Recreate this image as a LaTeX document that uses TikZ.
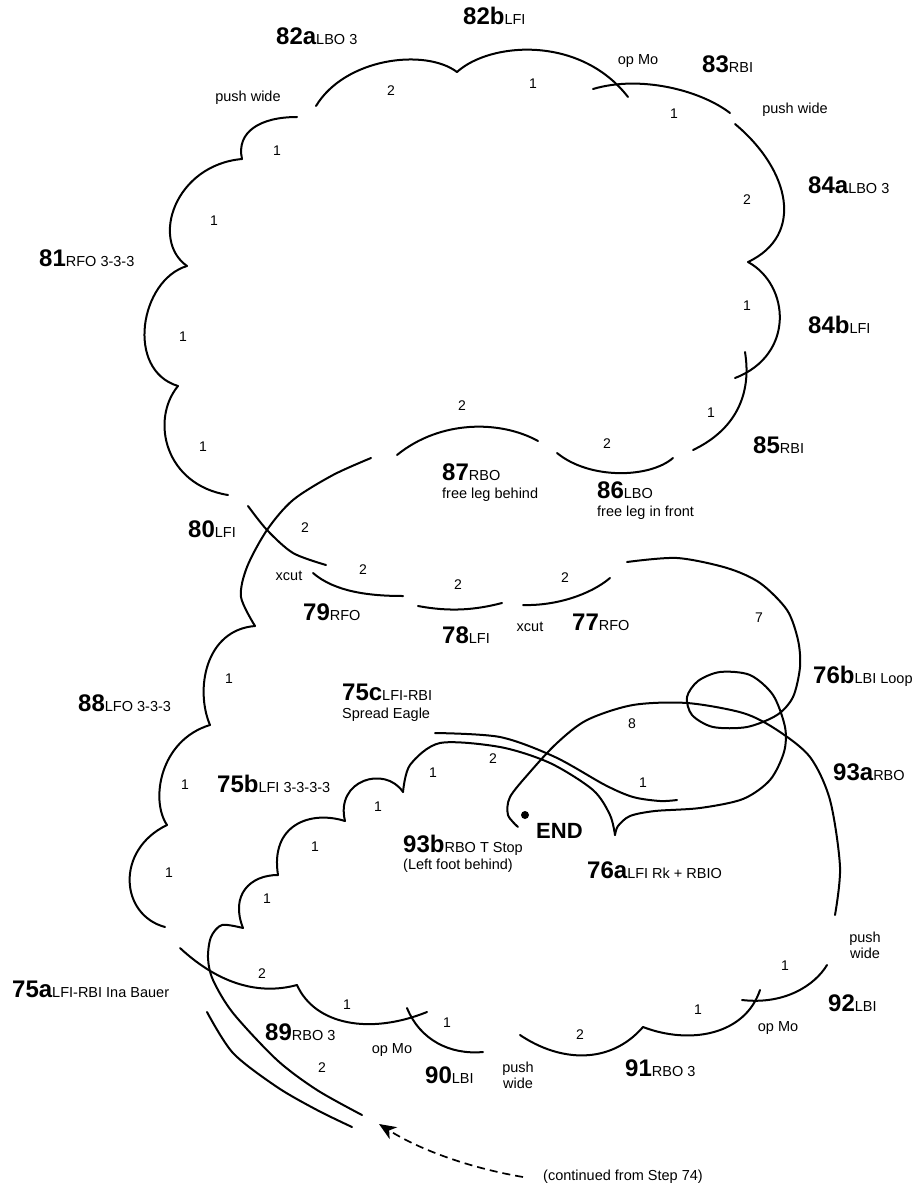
\documentclass[tikz,border=0pt]{standalone}
\usepackage{fontspec}
\setmainfont{Liberation Sans}
\usetikzlibrary{arrows.meta}
\newcommand{\edgetxt}[1]{{\fontsize{14.5}{14.5}\selectfont\mdseries #1}}

\begin{document}
\begin{tikzpicture}[
  x=1pt, y=-1pt,
  trace/.style={line width=2pt, line cap=round, line join=round},
  stp/.style={anchor=base west, inner sep=0pt, font=\fontsize{24}{24}\selectfont\bfseries},
  sub/.style={anchor=base west, inner sep=0pt, font=\fontsize{14.5}{14.5}\selectfont},
  cnt/.style={inner sep=0pt, font=\fontsize{14}{14}\selectfont},
  note/.style={inner sep=0pt, align=center, font=\fontsize{14.5}{16}\selectfont},
  arr/.style={line width=1.7pt, dash pattern=on 8pt off 5pt,
              -{Stealth[length=17pt, width=14pt, inset=5pt]}}
]
\useasboundingbox (0,0) rectangle (920,1190);

% top cloud, steps 81 to 87
\draw[trace] (297,117) .. controls (260,117) and (236,132) .. (242,159);
\draw[trace] (242,159) .. controls (175,165) and (150,240) .. (187,266);
\draw[trace] (187,266) .. controls (140,280) and (125,370) .. (178,386);
\draw[trace] (178,386) .. controls (150,420) and (165,485) .. (228,495);
\draw[trace] (316,106) .. controls (345,58) and (425,48) .. (457,72);
\draw[trace] (457,72) .. controls (490,42) and (580,35) .. (628,97);
\draw[trace] (593,89) .. controls (640,75) and (700,90) .. (730,113);
\draw[trace] (735,124) .. controls (790,170) and (805,235) .. (748,262);
\draw[trace] (748,262) .. controls (790,285) and (795,355) .. (735,378);
\draw[trace] (745,352) .. controls (752,395) and (735,430) .. (693,450);
\draw[trace] (673,458) .. controls (650,478) and (590,480) .. (557,453);
\draw[trace] (538,441) .. controls (500,420) and (440,420) .. (397,455);

% 80 and the xcut row
\draw[trace] plot[smooth] coordinates {(371,458) (333,475) (293,500) (267,530) (247,567) (241,597) (255,626)};
\draw[trace] plot[smooth] coordinates {(248,506) (267,530) (293,553) (326,565)};
\draw[trace] (313,573) .. controls (335,592) and (370,596) .. (403,596);
\draw[trace] (418,606) .. controls (450,612) and (475,610) .. (502,603);
\draw[trace] (523,605) .. controls (555,606) and (590,595) .. (610,578);

% 88 lobes
\draw[trace] (255,626) .. controls (205,630) and (195,690) .. (210,725);
\draw[trace] (210,725) .. controls (160,740) and (150,800) .. (167,825);
\draw[trace] (167,825) .. controls (115,850) and (120,915) .. (165,927);

% 76b loop into 76a
\draw[trace] plot[smooth] coordinates {(627,562) (677,558) (727,568) (760,583) (787,610) (798,640) (800,667)
  (793,697) (777,715) (747,727) (713,727) (692,715) (687,697) (698,681) (720,672) (750,675) (773,695)
  (785,727) (784,752) (770,780) (743,799) (700,808) (655,811) (630,816) (618,826) (615,835)};

% 75 series
\draw[trace] plot[smooth] coordinates {(403,792) (410,765) (440,743) (500,747) (550,763) (593,790) (610,815) (615,835)};
\draw[trace] plot[smooth] coordinates {(435,733) (500,737) (555,757) (605,785) (633,797) (660,801) (677,800)};
\draw[trace] (345,821) .. controls (335,780) and (385,765) .. (403,792);
\draw[trace] (278,875) .. controls (270,825) and (310,810) .. (345,821);
\draw[trace] (243,928) .. controls (230,895) and (250,875) .. (278,875);
\draw[trace] plot[smooth] coordinates {(362,1115) (317,1090) (277,1060) (233,1013) (213,980) (208,958) (211,937) (222,925) (243,928)};
\draw[trace] plot[smooth] coordinates {(207,1012) (233,1053) (277,1087) (317,1110) (352,1127)};

% 93a and the T stop
\draw[trace] plot[smooth] coordinates {(518,827) (508,815) (510,797) (530,772) (557,743) (587,720) (633,705)
  (687,703) (743,713) (777,730) (810,757) (830,800) (840,867) (835,915)};

% bottom row 89 to 92
\draw[trace] (180,948) .. controls (220,985) and (260,995) .. (297,985);
\draw[trace] (297,985) .. controls (315,1025) and (370,1035) .. (427,1012);
\draw[trace] (407,1008) .. controls (420,1040) and (450,1055) .. (483,1052);
\draw[trace] (520,1035) .. controls (560,1062) and (610,1065) .. (643,1027);
\draw[trace] (643,1027) .. controls (690,1045) and (745,1035) .. (760,990);
\draw[trace] (742,1000) .. controls (785,1005) and (815,985) .. (827,965);

% step labels
\node[stp] (s81)  at (39,266)  {81\edgetxt{RFO 3-3-3}};
\node[stp] (s82a) at (276,45)  {82a\edgetxt{LBO 3}};
\node[stp] (s82b) at (463,25)  {82b\edgetxt{LFI}};
\node[stp] (s83)  at (702,73)  {83\edgetxt{RBI}};
\node[stp] (s84a) at (808,194) {84a\edgetxt{LBO 3}};
\node[stp] (s84b) at (808,333) {84b\edgetxt{LFI}};
\node[stp] (s85)  at (753,453) {85\edgetxt{RBI}};
\node[stp] (s86)  at (597,498) {86\edgetxt{LBO}};
\node[sub] (s86n) at (597,516) {free leg in front};
\node[stp] (s87)  at (442,480) {87\edgetxt{RBO}};
\node[sub] (s87n) at (442,498) {free leg behind};
\node[stp] (s80)  at (188,537) {80\edgetxt{LFI}};
\node[stp] (s79)  at (303,620) {79\edgetxt{RFO}};
\node[stp] (s78)  at (442,643) {78\edgetxt{LFI}};
\node[stp] (s77)  at (572,630) {77\edgetxt{RFO}};
\node[stp] (s88)  at (78,711)  {88\edgetxt{LFO 3-3-3}};
\node[stp] (s75c) at (342,700) {75c\edgetxt{LFI-RBI}};
\node[sub] (s75n) at (342,718) {Spread Eagle};
\node[stp] (s76b) at (813,683) {76b\edgetxt{LBI Loop}};
\node[stp] (s75b) at (217,792) {75b\edgetxt{LFI 3-3-3-3}};
\node[stp] (s93a) at (833,780) {93a\edgetxt{RBO}};
\node[stp] (s93b) at (403,852) {93b\edgetxt{RBO T Stop}};
\node[sub] (s93n) at (403,869) {(Left foot behind)};
\node[stp] (s76a) at (587,878) {76a\edgetxt{LFI Rk + RBIO}};
\node[stp] (s75a) at (12,997)  {75a\edgetxt{LFI-RBI Ina Bauer}};
\node[stp] (s89)  at (265,1040) {89\edgetxt{RBO 3}};
\node[stp] (s90)  at (425,1083) {90\edgetxt{LBI}};
\node[stp] (s91)  at (625,1076) {91\edgetxt{RBO 3}};
\node[stp] (s92)  at (828,1011) {92\edgetxt{LBI}};

% end of the program
\fill (525,815) circle (4pt) coordinate (enddot);
\node[stp, font=\fontsize{22}{22}\selectfont\bfseries] (endlbl) at (536,838) {END};

% notes along the trace
\node[note] (n1) at (248,98)   {push wide};
\node[note] (n2) at (795,110)  {push wide};
\node[note] (n3) at (638,61)   {op Mo};
\node[note] (n4) at (289,576)  {xcut};
\node[note] (n5) at (530,627)  {xcut};
\node[note] (n6) at (392,1050) {op Mo};
\node[note] (n7) at (778,1028) {op Mo};
\node[note] (n8) at (518,1075) {push\\wide};
\node[note] (n9) at (865,945)  {push\\wide};

% beat counts
\foreach \x/\y/\n [count=\i] in {391/91/2, 533/84/1, 674/114/1, 747/200/2, 747/306/1, 711/413/1,
    607/444/2, 462/406/2, 277/151/1, 214/221/1, 183/337/1, 203/447/1,
    305/528/2, 363/570/2, 458/585/2, 565/578/2, 759/618/7, 229/679/1, 185/785/1, 169/873/1,
    632/724/8, 493/759/2, 643/783/1, 433/773/1, 378/807/1, 315/847/1, 267/899/1,
    262/974/2, 347/1005/1, 447/1023/1, 322/1068/2, 580/1035/2, 698/1010/1, 785/966/1}
  \node[cnt] (c\i) at (\x,\y) {\n};

% lead-in from step 74
\node[note, anchor=west] (cont) at (543,1177) {(continued from Step 74)};
\coordinate (s74in) at (379,1124);
\draw[arr] ([xshift=-20pt]cont.west) .. controls (470,1168) and (420,1150) .. (s74in);
\end{tikzpicture}
\end{document}
